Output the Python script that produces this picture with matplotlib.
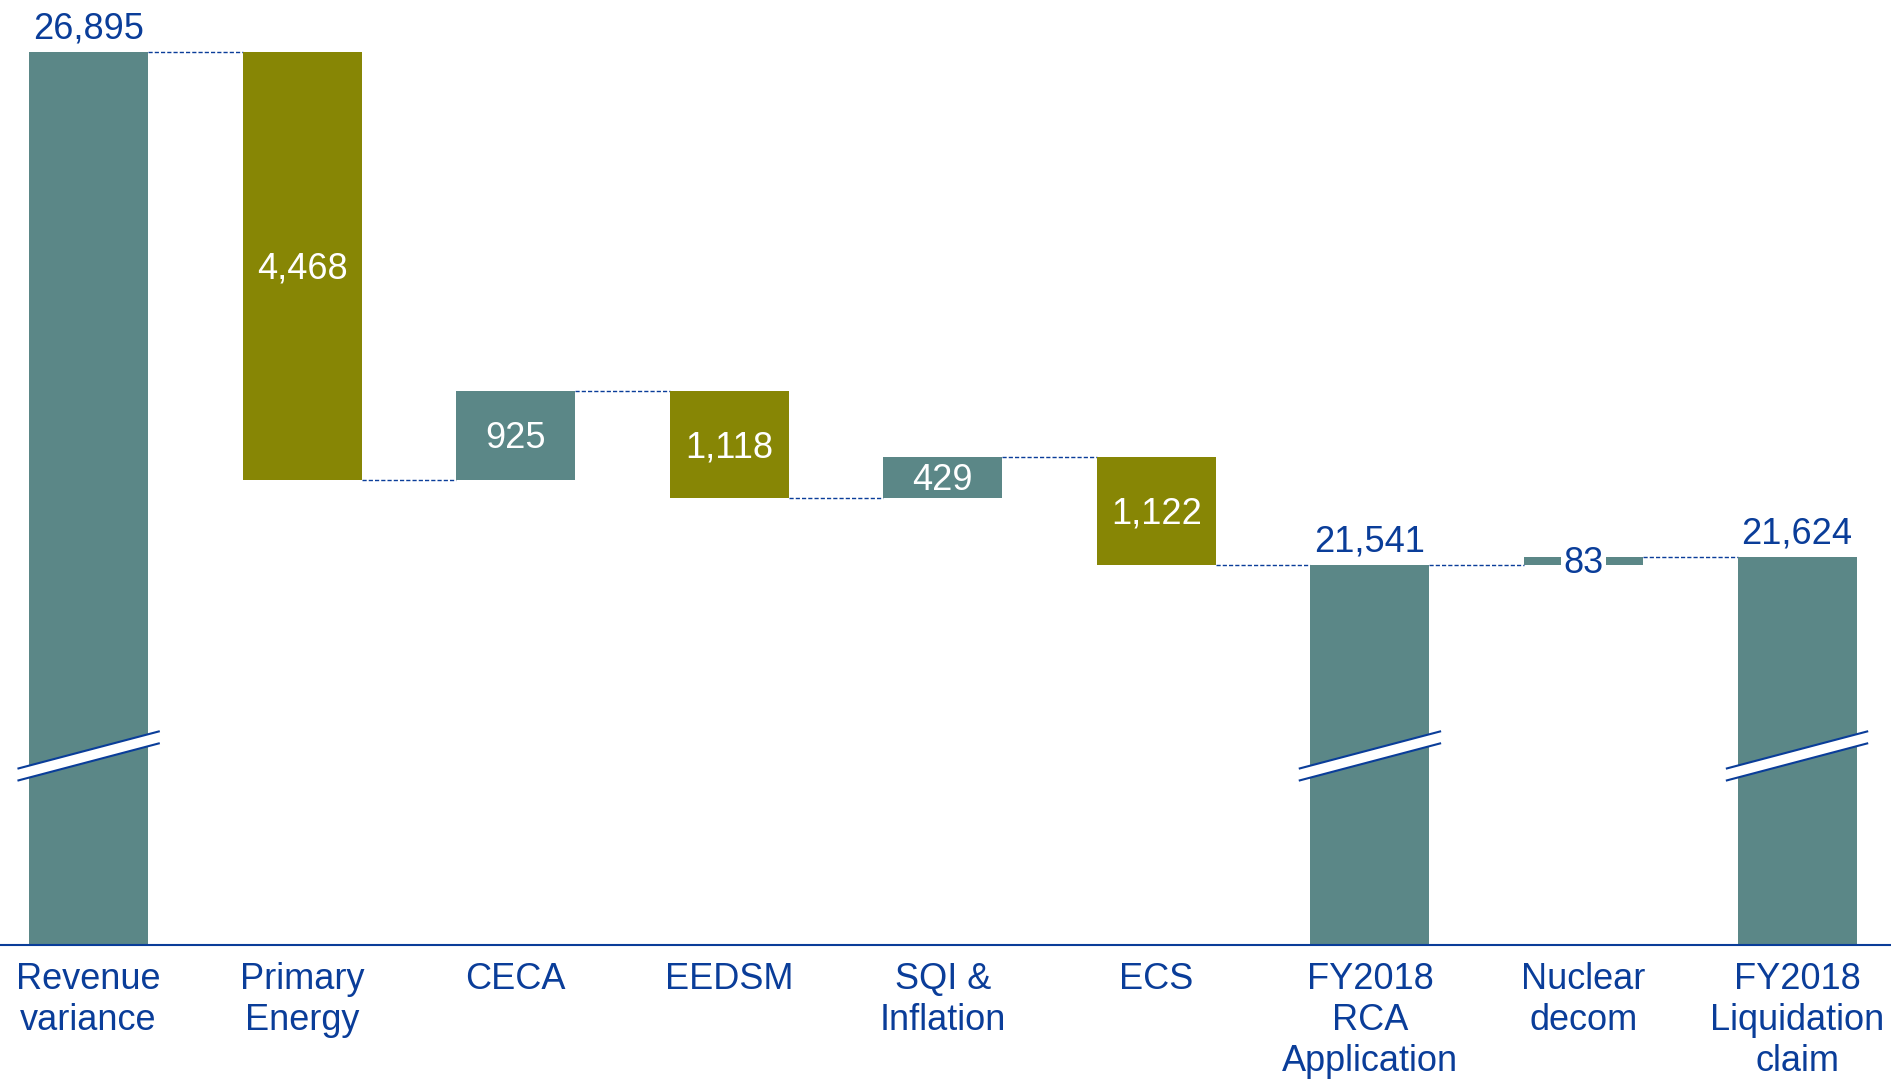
import matplotlib.pyplot as plt
import numpy as np

# waterfall data
categories = ['Revenue\nvariance', 'Primary\nEnergy', 'CECA', 'EEDSM', 'SQI &\nInflation',
              'ECS', 'FY2018\nRCA\nApplication', 'Nuclear\ndecom', 'FY2018\nLiquidation\nclaim']
changes = [26895, -4468, 925, -1118, 429, -1122, 0, 83, 0]
is_total = [True, False, False, False, False, False, True, False, True]

TEAL = '#5b8787'
OLIVE = '#878605'
BLUE = '#0a3d99'
plt.rcParams['font.family'] = ['Liberation Sans', 'DejaVu Sans']

# axis is broken, so bars start at this floor value
y_floor = 17572
y_top = 27438
width = 0.557

fig = plt.figure(figsize=(18.91, 10.79), dpi=100)
ax = fig.add_axes([0, 1 - 945 / 1079, 1, 945 / 1079])

level = 0
bottoms, tops, ends = [], [], []
for ch, tot in zip(changes, is_total):
    if tot:
        level = level + ch
        bottoms.append(y_floor)
        tops.append(level)
    else:
        start = level
        level = level + ch
        bottoms.append(min(start, level))
        tops.append(max(start, level))
    ends.append(level)

x = np.arange(len(categories))
colors = [TEAL if (tot or ch > 0) else OLIVE for ch, tot in zip(changes, is_total)]
heights = [t - b for t, b in zip(tops, bottoms)]
ax.bar(x, heights, bottom=bottoms, width=width, color=colors, zorder=2)

# dashed connectors
for i in range(len(x) - 1):
    ax.plot([x[i] + width / 2, x[i + 1] - width / 2], [ends[i], ends[i]],
            color=BLUE, lw=1, ls=(0, (3, 1.5)), zorder=1)

# labels
for i, (ch, tot) in enumerate(zip(changes, is_total)):
    mid = (tops[i] + bottoms[i]) / 2
    if tot:
        ax.annotate(f'{ends[i]:,}', (x[i], tops[i]), xytext=(0, 4), textcoords='offset points',
                    ha='center', va='bottom', color=BLUE, fontsize=26)
    elif abs(ch) < 200:
        ax.annotate(f'{abs(ch):,}', (x[i], mid), xytext=(0, -2), textcoords='offset points',
                    ha='center', va='center', color=BLUE, fontsize=26, zorder=3,
                    bbox=dict(facecolor='white', edgecolor='none', pad=2))
    else:
        ax.annotate(f'{abs(ch):,}', (x[i], mid), xytext=(0, -2), textcoords='offset points',
                    ha='center', va='center', color='white', fontsize=26, zorder=3)

# axis break marks on the total bars
for i, tot in enumerate(is_total):
    if not tot:
        continue
    x0, x1 = x[i] - width / 2 - 0.05, x[i] + width / 2 + 0.05
    yc, rise, gap = 19546, 386, 125
    ya, yb = yc - rise / 2, yc + rise / 2
    ax.fill([x0, x1, x1, x0], [ya + gap / 2, yb + gap / 2, yb - gap / 2, ya - gap / 2],
            color='white', zorder=4, lw=0)
    ax.plot([x0, x1], [ya + gap / 2, yb + gap / 2], color=BLUE, lw=1.5, zorder=5)
    ax.plot([x0, x1], [ya - gap / 2, yb - gap / 2], color=BLUE, lw=1.5, zorder=5)

ax.set_xlim(-0.415, 8.44)
ax.set_ylim(y_floor, y_top)
ax.set_xticks(x)
ax.set_xticklabels(categories, color=BLUE, fontsize=26, linespacing=1.22)
ax.tick_params(axis='x', length=0, pad=12)
ax.set_yticks([])
for s in ['top', 'left', 'right']:
    ax.spines[s].set_visible(False)
ax.spines['bottom'].set_color(BLUE)
ax.spines['bottom'].set_linewidth(1.5)

fig.savefig('out.png', dpi=100)
